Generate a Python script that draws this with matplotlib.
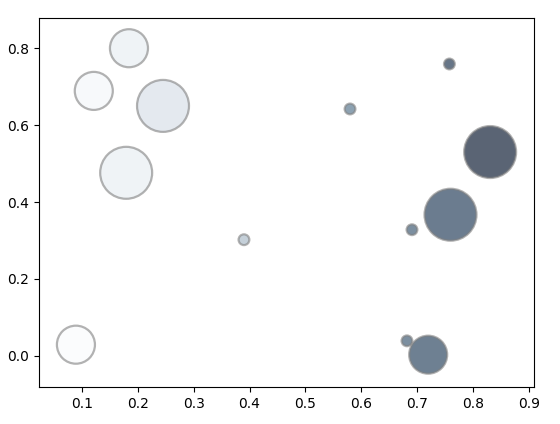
import numpy as np
import matplotlib
matplotlib.use("Agg")
import matplotlib.pyplot as plt
from matplotlib.colors import LinearSegmentedColormap

x = np.array([0.184, 0.121, 0.245, 0.179, 0.089, 0.390, 0.580, 0.758, 0.831, 0.760, 0.691, 0.682, 0.720])
y = np.array([0.800, 0.689, 0.650, 0.476, 0.029, 0.302, 0.642, 0.759, 0.530, 0.367, 0.328, 0.039, 0.003])
sizes = np.array([750, 750, 1400, 1400, 750, 60, 60, 60, 1400, 1400, 60, 60, 750])
shade = np.array([0.18, 0.10, 0.30, 0.18, 0.05, 0.45, 0.60, 0.85, 1.00, 0.80, 0.70, 0.70, 0.78])

cmap = LinearSegmentedColormap.from_list(
    "slate",
    [(0.0, "#ffffff"), (0.1, "#f7f9fb"), (0.3, "#e4e9ef"), (0.45, "#c5d0d9"),
     (0.6, "#8da2b2"), (0.8, "#6b7c8f"), (1.0, "#5a6474")])

fig = plt.figure(figsize=(5.6, 4.24), dpi=100)
ax = fig.add_axes([0.0688, 0.0873, 0.954 - 0.0688, 0.957 - 0.0873])

ax.scatter(x, y, s=sizes, c=shade, cmap=cmap, vmin=0, vmax=1,
           edgecolors=(0.5, 0.5, 0.5, 0.6), linewidths=1.6)

ax.set_xlim(0.022, 0.910)
ax.set_ylim(-0.081, 0.878)
ax.set_xticks(np.arange(0.1, 0.95, 0.1))
ax.set_yticks(np.arange(0.0, 0.85, 0.2))

fig.savefig("out.png", dpi=100)
